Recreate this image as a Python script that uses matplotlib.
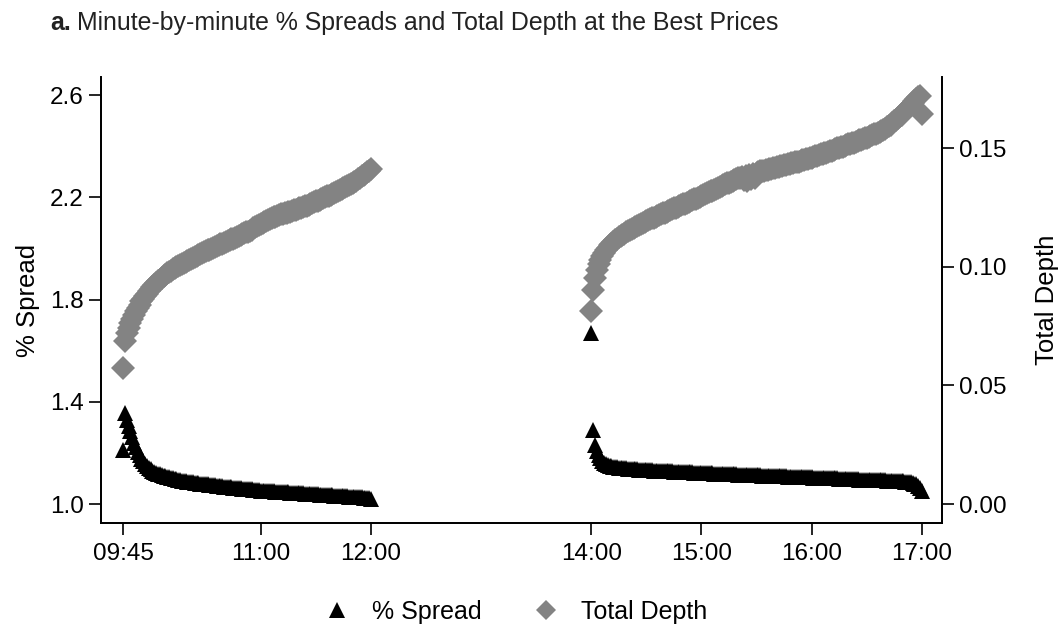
import numpy as np
from matplotlib import pyplot as plt
from matplotlib.lines import Line2D

plt.rcParams['font.family'] = ['Liberation Sans', 'DejaVu Sans']

# minute-by-minute observations, morning session 09:45-12:00
# and afternoon session 14:00-17:00
am_start, am_end = 9 * 60 + 45, 12 * 60
pm_start, pm_end = 14 * 60, 17 * 60

spread_am = [
    1.210, 1.355, 1.330, 1.305, 1.285, 1.262, 1.240, 1.222, 1.205, 1.190,
    1.178, 1.167, 1.158, 1.150, 1.143, 1.137, 1.131, 1.127, 1.123, 1.119,
    1.116, 1.113, 1.110, 1.108, 1.106, 1.104, 1.102, 1.100, 1.098, 1.097,
    1.095, 1.094, 1.092, 1.091, 1.090, 1.088, 1.087, 1.086, 1.085, 1.084,
    1.082, 1.081, 1.080, 1.079, 1.078, 1.077, 1.077, 1.076, 1.075, 1.074,
    1.073, 1.072, 1.071, 1.070, 1.069, 1.068, 1.068, 1.067, 1.066, 1.065,
    1.064, 1.063, 1.063, 1.062, 1.061, 1.060, 1.060, 1.059, 1.058, 1.057,
    1.057, 1.056, 1.055, 1.055, 1.054, 1.053, 1.053, 1.052, 1.052, 1.051,
    1.051, 1.050, 1.050, 1.049, 1.049, 1.048, 1.048, 1.047, 1.047, 1.046,
    1.046, 1.045, 1.045, 1.044, 1.044, 1.043, 1.043, 1.042, 1.042, 1.041,
    1.041, 1.040, 1.040, 1.039, 1.039, 1.038, 1.038, 1.037, 1.037, 1.036,
    1.036, 1.035, 1.035, 1.034, 1.034, 1.033, 1.033, 1.032, 1.032, 1.031,
    1.031, 1.030, 1.030, 1.029, 1.029, 1.028, 1.028, 1.027, 1.027, 1.026,
    1.026, 1.025, 1.025, 1.024, 1.022, 1.020,
]

depth_am = [
    0.0574, 0.0688, 0.0720, 0.0742, 0.0762, 0.0780, 0.0797, 0.0813, 0.0828, 0.0841,
    0.0854, 0.0866, 0.0877, 0.0887, 0.0897, 0.0906, 0.0915, 0.0923, 0.0931, 0.0939,
    0.0946, 0.0953, 0.0960, 0.0966, 0.0972, 0.0978, 0.0983, 0.0989, 0.0994, 0.0999,
    0.1004, 0.1009, 0.1013, 0.1018, 0.1022, 0.1026, 0.1030, 0.1034, 0.1038, 0.1042,
    0.1046, 0.1050, 0.1054, 0.1058, 0.1062, 0.1066, 0.1070, 0.1073, 0.1077, 0.1081,
    0.1084, 0.1088, 0.1091, 0.1095, 0.1098, 0.1102, 0.1105, 0.1109, 0.1112, 0.1116,
    0.1119, 0.1123, 0.1126, 0.1130, 0.1133, 0.1137, 0.1141, 0.1145, 0.1149, 0.1153,
    0.1157, 0.1162, 0.1166, 0.1171, 0.1176, 0.1181, 0.1185, 0.1190, 0.1194, 0.1198,
    0.1202, 0.1206, 0.1209, 0.1212, 0.1215, 0.1218, 0.1221, 0.1223, 0.1226, 0.1228,
    0.1231, 0.1233, 0.1236, 0.1238, 0.1241, 0.1243, 0.1246, 0.1249, 0.1252, 0.1255,
    0.1258, 0.1262, 0.1265, 0.1269, 0.1272, 0.1276, 0.1279, 0.1283, 0.1286, 0.1290,
    0.1293, 0.1297, 0.1300, 0.1304, 0.1307, 0.1311, 0.1315, 0.1319, 0.1323, 0.1327,
    0.1331, 0.1335, 0.1340, 0.1344, 0.1349, 0.1354, 0.1359, 0.1364, 0.1369, 0.1375,
    0.1381, 0.1387, 0.1393, 0.1399, 0.1406, 0.1414,
]

spread_pm = [
    1.670, 1.291, 1.231, 1.208, 1.192, 1.179, 1.169, 1.162, 1.157, 1.153,
    1.150, 1.148, 1.146, 1.145, 1.144, 1.143, 1.142, 1.141, 1.140, 1.140,
    1.139, 1.138, 1.138, 1.137, 1.137, 1.136, 1.135, 1.135, 1.134, 1.134,
    1.133, 1.133, 1.132, 1.132, 1.131, 1.131, 1.130, 1.130, 1.130, 1.129,
    1.129, 1.129, 1.128, 1.128, 1.128, 1.127, 1.127, 1.126, 1.126, 1.126,
    1.125, 1.125, 1.125, 1.124, 1.124, 1.124, 1.123, 1.123, 1.122, 1.122,
    1.122, 1.121, 1.121, 1.121, 1.120, 1.120, 1.120, 1.119, 1.119, 1.119,
    1.118, 1.118, 1.118, 1.117, 1.117, 1.117, 1.117, 1.116, 1.116, 1.116,
    1.115, 1.115, 1.115, 1.114, 1.114, 1.114, 1.114, 1.113, 1.113, 1.113,
    1.112, 1.112, 1.112, 1.111, 1.111, 1.111, 1.111, 1.110, 1.110, 1.110,
    1.109, 1.109, 1.109, 1.108, 1.108, 1.108, 1.108, 1.107, 1.107, 1.107,
    1.106, 1.106, 1.106, 1.106, 1.105, 1.105, 1.105, 1.104, 1.104, 1.104,
    1.104, 1.103, 1.103, 1.103, 1.103, 1.102, 1.102, 1.102, 1.101, 1.101,
    1.101, 1.101, 1.100, 1.100, 1.100, 1.099, 1.099, 1.099, 1.099, 1.098,
    1.098, 1.098, 1.097, 1.097, 1.097, 1.097, 1.096, 1.096, 1.096, 1.096,
    1.095, 1.095, 1.095, 1.094, 1.094, 1.094, 1.094, 1.093, 1.093, 1.093,
    1.093, 1.092, 1.092, 1.092, 1.092, 1.091, 1.091, 1.091, 1.090, 1.090,
    1.089, 1.088, 1.087, 1.086, 1.085, 1.083, 1.080, 1.077, 1.072, 1.064,
    1.050,
]

depth_pm = [
    0.0813, 0.0902, 0.0955, 0.0985, 0.1010, 0.1030, 0.1047, 0.1060, 0.1071, 0.1081,
    0.1090, 0.1098, 0.1105, 0.1112, 0.1118, 0.1124, 0.1130, 0.1135, 0.1140, 0.1145,
    0.1150, 0.1155, 0.1160, 0.1165, 0.1170, 0.1174, 0.1178, 0.1182, 0.1186, 0.1190,
    0.1193, 0.1197, 0.1200, 0.1204, 0.1207, 0.1211, 0.1214, 0.1218, 0.1221, 0.1225,
    0.1228, 0.1232, 0.1235, 0.1239, 0.1242, 0.1246, 0.1249, 0.1253, 0.1256, 0.1260,
    0.1263, 0.1267, 0.1270, 0.1274, 0.1278, 0.1281, 0.1285, 0.1288, 0.1292, 0.1295,
    0.1299, 0.1303, 0.1306, 0.1310, 0.1314, 0.1318, 0.1321, 0.1325, 0.1329, 0.1333,
    0.1337, 0.1340, 0.1344, 0.1348, 0.1352, 0.1355, 0.1359, 0.1362, 0.1366, 0.1369,
    0.1373, 0.1376, 0.1380, 0.1368, 0.1384, 0.1362, 0.1387, 0.1370, 0.1391, 0.1375,
    0.1396, 0.1399, 0.1402, 0.1404, 0.1406, 0.1408, 0.1410, 0.1412, 0.1414, 0.1416,
    0.1418, 0.1420, 0.1422, 0.1424, 0.1426, 0.1428, 0.1430, 0.1432, 0.1434, 0.1436,
    0.1438, 0.1440, 0.1442, 0.1444, 0.1446, 0.1449, 0.1451, 0.1454, 0.1456, 0.1459,
    0.1461, 0.1464, 0.1466, 0.1469, 0.1471, 0.1474, 0.1476, 0.1479, 0.1481, 0.1484,
    0.1487, 0.1490, 0.1493, 0.1496, 0.1499, 0.1502, 0.1504, 0.1507, 0.1510, 0.1513,
    0.1516, 0.1519, 0.1521, 0.1524, 0.1527, 0.1530, 0.1533, 0.1536, 0.1539, 0.1542,
    0.1544, 0.1547, 0.1551, 0.1555, 0.1558, 0.1562, 0.1566, 0.1570, 0.1574, 0.1578,
    0.1582, 0.1588, 0.1594, 0.1600, 0.1607, 0.1614, 0.1621, 0.1628, 0.1635, 0.1642,
    0.1650, 0.1658, 0.1666, 0.1674, 0.1682, 0.1690, 0.1698, 0.1706, 0.1716, 0.1722,
    0.1646,
]

tick_labels = ["09:45", "11:00", "12:00", "14:00", "15:00", "16:00", "17:00"]
left_ticks = [1.0, 1.4, 1.8, 2.2, 2.6]
right_ticks = [0.00, 0.05, 0.10, 0.15]

t_am = np.arange(am_start, am_end + 1)
t_pm = np.arange(pm_start, pm_end + 1)
minutes = np.concatenate([t_am, t_pm])
spread = np.array(spread_am + spread_pm)
depth = np.array(depth_am + depth_pm)

tick_pos = [int(s[:2]) * 60 + int(s[3:]) for s in tick_labels]

grey = '#838383'

fig = plt.figure(figsize=(10.64, 6.32), dpi=100)
ax = fig.add_axes([0.095, 0.1725, 0.7903, 0.7055])
ax2 = ax.twinx()

ax.plot(minutes, spread, linestyle='none', marker='^', ms=11.5,
        color='black', mec='black', mew=0)
ax2.plot(minutes, depth, linestyle='none', marker='D', ms=12.5,
         color=grey, mec=grey, mew=0)

ax.set_xlim(573, 1031)
ax.set_ylim(0.926, 2.67)
ax2.set_ylim(-0.008, 0.180)

ax.set_xticks(tick_pos)
ax.set_xticklabels(tick_labels)
ax.set_yticks(left_ticks)
ax.set_yticklabels([f"{v:.1f}" for v in left_ticks])
ax2.set_yticks(right_ticks)
ax2.set_yticklabels([f"{v:.2f}" for v in right_ticks])

for a in (ax, ax2):
    a.spines['top'].set_visible(False)
    for s in a.spines.values():
        s.set_linewidth(1.3)
    a.tick_params(length=8.5, width=1.2, labelsize=17.5, pad=4)
ax.tick_params(axis='x', pad=6)

ax.set_ylabel("% Spread", fontsize=18.5, labelpad=7)
ax2.set_ylabel("Total Depth", fontsize=18.5, labelpad=20)

handles = [
    Line2D([], [], linestyle='none', marker='^', ms=11, color='black', mew=0),
    Line2D([], [], linestyle='none', marker='D', ms=10.5, color=grey, mew=0),
]
fig.legend(handles, ["% Spread", "Total Depth"], loc='center',
           bbox_to_anchor=(0.485, 0.032), ncol=2, frameon=False, fontsize=18,
           handlelength=1.0, columnspacing=2.05, handletextpad=0.9)

# panel title: bold letter then plain text
fig.canvas.draw()
r = fig.canvas.get_renderer()
t1 = fig.text(0.047, 0.953, "a.", fontsize=17.9, fontweight='bold',
              ha='left', va='baseline', color='#222222')
bb = t1.get_window_extent(renderer=r)
fig.text((bb.x1 + 6) / fig.bbox.width, 0.953,
         "Minute-by-minute % Spreads and Total Depth at the Best Prices",
         fontsize=17.9, ha='left', va='baseline', color='#222222')

fig.savefig("out.png", dpi=100)
